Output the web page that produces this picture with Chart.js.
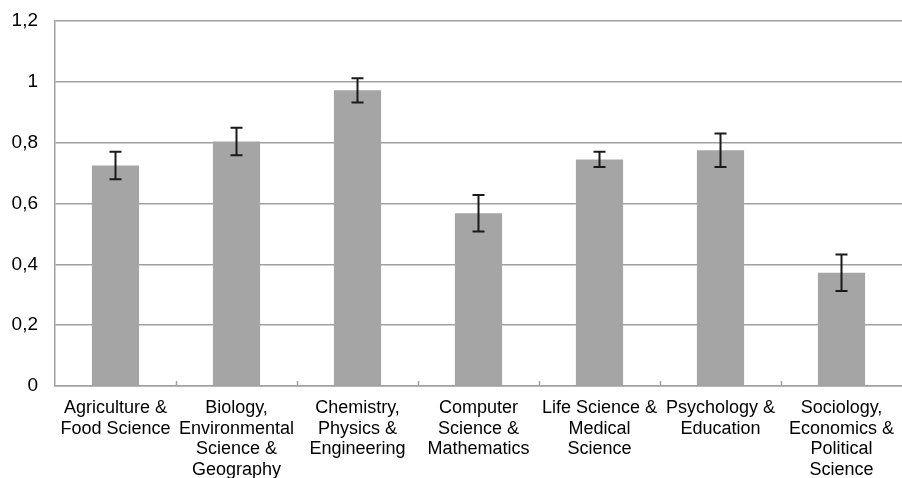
<!DOCTYPE html>
<html>
<head>
<meta charset="utf-8">
<script src="https://cdn.jsdelivr.net/npm/chart.js@4"></script>
<style>
  body { margin: 0; background: #fff; }
  canvas { display: block; }
</style>
</head>
<body>
<canvas id="chart" width="902" height="478"></canvas>
<script>
const categories = [
  ['Agriculture &', 'Food Science'],
  ['Biology,', 'Environmental', 'Science &', 'Geography'],
  ['Chemistry,', 'Physics &', 'Engineering'],
  ['Computer', 'Science &', 'Mathematics'],
  ['Life Science &', 'Medical', 'Science'],
  ['Psychology &', 'Education'],
  ['Sociology,', 'Economics &', 'Political', 'Science']
];
const means = [0.725, 0.804, 0.972, 0.568, 0.745, 0.775, 0.372];
const errors = [0.045, 0.045, 0.04, 0.06, 0.025, 0.055, 0.06];
const yTickLabels = ['0', '0,2', '0,4', '0,6', '0,8', '1', '1,2'];

const barColor = '#a5a5a5';
const gridColor = '#a0a0a0';

// whiskers on each bar + small inward tick marks between categories
const errorBars = {
  id: 'errorBars',
  afterDatasetsDraw(chart) {
    const { ctx, scales: { x, y } } = chart;
    ctx.save();
    ctx.strokeStyle = gridColor;
    ctx.lineWidth = 1.5;
    const step = (x.right - x.left) / categories.length;
    for (let i = 1; i < categories.length; i++) {
      const bx = Math.round(x.left + i * step) + 0.5;
      ctx.beginPath();
      ctx.moveTo(bx, y.bottom);
      ctx.lineTo(bx, y.bottom - 5);
      ctx.stroke();
    }
    ctx.strokeStyle = '#1a1a1a';
    ctx.lineWidth = 2;
    means.forEach((m, i) => {
      const cx = x.getPixelForValue(i);
      const top = y.getPixelForValue(m + errors[i]);
      const bot = y.getPixelForValue(m - errors[i]);
      ctx.beginPath();
      ctx.moveTo(cx, top); ctx.lineTo(cx, bot);
      ctx.moveTo(cx - 6, top); ctx.lineTo(cx + 6, top);
      ctx.moveTo(cx - 6, bot); ctx.lineTo(cx + 6, bot);
      ctx.stroke();
    });
    ctx.restore();
  }
};

new Chart(document.getElementById('chart'), {
  type: 'bar',
  data: {
    labels: categories,
    datasets: [{
      data: means,
      backgroundColor: barColor,
      borderWidth: 0,
      categoryPercentage: 1,
      barPercentage: 0.39
    }]
  },
  options: {
    responsive: false,
    animation: false,
    layout: { padding: { top: 21, left: 0, right: 0, bottom: 0 } },
    plugins: { legend: { display: false }, tooltip: { enabled: false } },
    scales: {
      x: {
        grid: { drawOnChartArea: false, drawTicks: false },
        border: { color: gridColor, width: 1.5 },
        ticks: {
          color: '#000',
          padding: 12,
          maxRotation: 0,
          autoSkip: false,
          font: { family: 'Liberation Sans, Arial, sans-serif', size: 18, lineHeight: 1.14 }
        },
        afterFit(scale) {
          scale.height = 92;
          scale.paddingLeft = 0;
          scale.paddingRight = 0;
        }
      },
      y: {
        min: 0,
        max: 1.2,
        grid: { color: gridColor, lineWidth: 1.5, drawTicks: false },
        border: { color: gridColor, width: 1.5 },
        ticks: {
          stepSize: 0.2,
          padding: 17,
          color: '#000',
          font: { family: 'Liberation Sans, Arial, sans-serif', size: 19 },
          callback: (v, i) => yTickLabels[i]
        },
        afterFit(scale) {
          scale.width = 55;
          scale.paddingTop = 0;
          scale.paddingBottom = 0;
        }
      }
    }
  },
  plugins: [errorBars]
});
</script>
</body>
</html>
